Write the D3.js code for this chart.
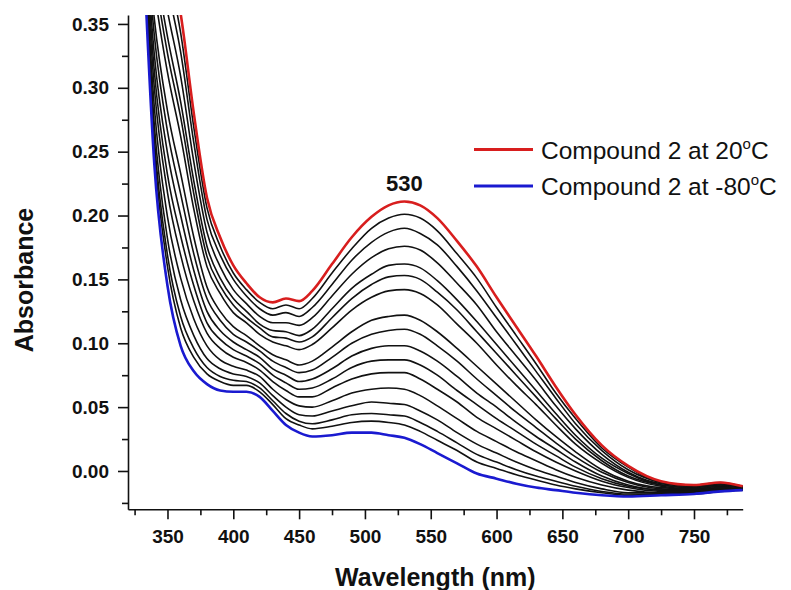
<!DOCTYPE html>
<html>
<head>
<meta charset="utf-8">
<script src="https://d3js.org/d3.v7.min.js"></script>
<style>
  html, body { margin: 0; padding: 0; background: #fff; }
  svg { display: block; }
  .tick text { font-family: "Liberation Sans", Arial, sans-serif; font-weight: bold; font-size: 19px; fill: #111; }
</style>
</head>
<body>
<svg id="chart" width="791" height="590"></svg>
<script>
// Wavelength grid (nm) shared by every spectrum
const wavelengths = [330,340,350,360,370,380,390,400,410,420,430,440,450,460,475,490,505,518,530,542,555,570,585,600,615,630,645,660,680,700,725,750,770,787];

// Spectrum recorded at 20 °C
const spectrum20C = [0.500,0.460,0.410,0.358,0.280,0.214,0.183,0.161,0.147,0.136,0.132,0.135,0.133,0.141,0.162,0.183,0.199,0.208,0.211,0.208,0.198,0.180,0.160,0.136,0.113,0.090,0.066,0.044,0.020,0.004,-0.008,-0.011,-0.009,-0.012];

// Spectrum recorded at -80 °C
const spectrumMinus80C = [0.450,0.240,0.145,0.098,0.078,0.068,0.063,0.062,0.062,0.058,0.047,0.036,0.030,0.027,0.028,0.030,0.030,0.028,0.026,0.021,0.014,0.006,-0.002,-0.006,-0.010,-0.013,-0.015,-0.017,-0.019,-0.020,-0.019,-0.018,-0.016,-0.015];

// Intermediate spectra recorded while cooling
const intermediateSpectra = [
  [0.497,0.448,0.395,0.343,0.269,0.206,0.176,0.155,0.142,0.132,0.127,0.130,0.127,0.135,0.155,0.174,0.190,0.198,0.201,0.198,0.188,0.170,0.151,0.128,0.106,0.084,0.061,0.041,0.018,0.003,-0.009,-0.011,-0.009,-0.012],
  [0.494,0.434,0.379,0.328,0.257,0.197,0.169,0.150,0.137,0.127,0.122,0.124,0.121,0.128,0.146,0.165,0.179,0.187,0.190,0.186,0.177,0.160,0.141,0.120,0.099,0.078,0.057,0.037,0.016,0.001,-0.009,-0.012,-0.010,-0.012],
  [0.491,0.419,0.360,0.309,0.242,0.187,0.160,0.142,0.131,0.121,0.116,0.116,0.114,0.120,0.137,0.154,0.167,0.174,0.176,0.173,0.163,0.147,0.130,0.109,0.090,0.071,0.051,0.033,0.013,-0.001,-0.010,-0.012,-0.010,-0.013],
  [0.487,0.402,0.340,0.289,0.227,0.176,0.151,0.135,0.125,0.115,0.110,0.109,0.106,0.111,0.127,0.143,0.154,0.161,0.162,0.159,0.149,0.134,0.117,0.099,0.081,0.063,0.045,0.028,0.010,-0.002,-0.011,-0.013,-0.011,-0.013],
  [0.484,0.391,0.327,0.277,0.217,0.168,0.145,0.130,0.120,0.112,0.105,0.104,0.101,0.105,0.120,0.135,0.146,0.152,0.153,0.150,0.140,0.126,0.109,0.092,0.075,0.058,0.041,0.025,0.008,-0.004,-0.011,-0.013,-0.011,-0.013],
  [0.481,0.378,0.312,0.262,0.205,0.160,0.139,0.124,0.116,0.107,0.101,0.098,0.095,0.099,0.112,0.126,0.136,0.141,0.142,0.139,0.130,0.115,0.100,0.083,0.067,0.052,0.036,0.021,0.006,-0.005,-0.012,-0.014,-0.012,-0.013],
  [0.476,0.354,0.282,0.233,0.183,0.144,0.125,0.113,0.106,0.098,0.091,0.087,0.083,0.086,0.097,0.109,0.118,0.121,0.122,0.118,0.109,0.096,0.082,0.068,0.054,0.040,0.027,0.015,0.001,-0.008,-0.013,-0.014,-0.012,-0.013],
  [0.473,0.341,0.266,0.217,0.170,0.135,0.118,0.107,0.101,0.094,0.086,0.081,0.077,0.079,0.089,0.100,0.107,0.110,0.111,0.107,0.098,0.086,0.072,0.059,0.046,0.034,0.022,0.011,-0.001,-0.009,-0.014,-0.015,-0.013,-0.014],
  [0.470,0.326,0.249,0.200,0.157,0.125,0.110,0.101,0.095,0.089,0.080,0.075,0.070,0.072,0.080,0.090,0.096,0.098,0.098,0.094,0.086,0.074,0.061,0.050,0.038,0.027,0.017,0.007,-0.004,-0.011,-0.015,-0.015,-0.013,-0.014],
  [0.467,0.313,0.232,0.184,0.145,0.116,0.103,0.095,0.090,0.084,0.075,0.069,0.064,0.065,0.072,0.081,0.086,0.087,0.087,0.083,0.075,0.063,0.052,0.041,0.031,0.021,0.012,0.003,-0.006,-0.012,-0.015,-0.016,-0.014,-0.014],
  [0.464,0.300,0.218,0.169,0.133,0.108,0.096,0.089,0.085,0.079,0.070,0.063,0.058,0.058,0.065,0.072,0.076,0.077,0.077,0.072,0.064,0.054,0.042,0.033,0.024,0.015,0.007,0.000,-0.008,-0.013,-0.016,-0.016,-0.014,-0.014],
  [0.460,0.285,0.199,0.151,0.119,0.098,0.087,0.082,0.079,0.074,0.064,0.056,0.051,0.050,0.055,0.061,0.064,0.065,0.064,0.059,0.051,0.041,0.031,0.023,0.015,0.008,0.001,-0.005,-0.011,-0.015,-0.017,-0.017,-0.015,-0.014],
  [0.457,0.271,0.182,0.134,0.106,0.088,0.080,0.076,0.074,0.069,0.059,0.050,0.044,0.043,0.047,0.051,0.054,0.053,0.052,0.047,0.040,0.030,0.021,0.014,0.007,0.001,-0.004,-0.009,-0.014,-0.017,-0.017,-0.017,-0.015,-0.015],
  [0.455,0.260,0.169,0.121,0.096,0.081,0.074,0.071,0.070,0.065,0.055,0.045,0.039,0.037,0.040,0.044,0.045,0.044,0.043,0.038,0.031,0.022,0.013,0.007,0.001,-0.004,-0.008,-0.012,-0.016,-0.018,-0.018,-0.017,-0.015,-0.015],
  [0.453,0.252,0.160,0.112,0.089,0.076,0.070,0.067,0.067,0.062,0.052,0.041,0.036,0.033,0.035,0.038,0.039,0.038,0.036,0.031,0.024,0.016,0.007,0.002,-0.003,-0.007,-0.011,-0.014,-0.017,-0.019,-0.018,-0.018,-0.016,-0.015]
];

// Axis ticks
const xMajorTicks = [350,400,450,500,550,600,650,700,750];
const xMinorTicks = [325,375,425,475,525,575,625,675,725,775];
const yMajorTicks = [0.00,0.05,0.10,0.15,0.20,0.25,0.30,0.35];
const yMinorTicks = [-0.025,0.025,0.075,0.125,0.175,0.225,0.275,0.325];

const legendItems = [
  {label: "Compound 2 at 20", color: "#d81e1e"},
  {label: "Compound 2 at -80", color: "#1a1ad0"}
];
const peakLabel = {wavelength: 530, text: "530"};

const svg = d3.select("#chart");
const font = '"Liberation Sans", Arial, sans-serif';

const plot = {left: 128, right: 742.7, top: 15, bottom: 509.3};
const x = d3.scaleLinear().domain([320, 787]).range([plot.left, plot.right]);
const y = d3.scaleLinear().domain([-0.03, 0.357]).range([plot.bottom, plot.top]);

svg.append("defs").append("clipPath").attr("id", "plotClip")
  .append("rect")
  .attr("x", plot.left + 1).attr("y", plot.top)
  .attr("width", plot.right - plot.left).attr("height", plot.bottom - plot.top - 1);

const line = d3.line()
  .x((d, i) => x(wavelengths[i]))
  .y(d => y(d))
  .curve(d3.curveMonotoneX);

const curves = svg.append("g").attr("clip-path", "url(#plotClip)");

curves.selectAll("path.mid")
  .data(intermediateSpectra)
  .join("path")
  .attr("class", "mid")
  .attr("d", line)
  .attr("fill", "none")
  .attr("stroke", "#111")
  .attr("stroke-width", 1.6);

curves.append("path")
  .attr("d", line(spectrumMinus80C))
  .attr("fill", "none")
  .attr("stroke", legendItems[1].color)
  .attr("stroke-width", 2.6);

curves.append("path")
  .attr("d", line(spectrum20C))
  .attr("fill", "none")
  .attr("stroke", legendItems[0].color)
  .attr("stroke-width", 2.6);

// Axes
svg.append("g").attr("transform", `translate(0,${plot.bottom})`)
  .call(d3.axisBottom(x).tickValues(xMajorTicks).tickFormat(d3.format("d")).tickSize(10).tickSizeOuter(0).tickPadding(10));
svg.append("g").attr("transform", `translate(0,${plot.bottom})`)
  .call(d3.axisBottom(x).tickValues(xMinorTicks).tickFormat("").tickSize(6).tickSizeOuter(0))
  .select(".domain").remove();

svg.append("g").attr("transform", `translate(${plot.left},0)`)
  .call(d3.axisLeft(y).tickValues(yMajorTicks).tickFormat(d3.format(".2f")).tickSize(10).tickSizeOuter(0).tickPadding(9));
svg.append("g").attr("transform", `translate(${plot.left},0)`)
  .call(d3.axisLeft(y).tickValues(yMinorTicks).tickFormat("").tickSize(6).tickSizeOuter(0))
  .select(".domain").remove();

svg.selectAll(".domain, .tick line").attr("stroke", "#111").attr("stroke-width", 1.6);

// Axis titles
svg.append("text")
  .attr("x", (plot.left + plot.right) / 2)
  .attr("y", 586)
  .attr("text-anchor", "middle")
  .attr("font-family", font).attr("font-weight", "bold").attr("font-size", 25)
  .attr("fill", "#111")
  .text("Wavelength (nm)");

svg.append("text")
  .attr("transform", "translate(33,280) rotate(-90)")
  .attr("text-anchor", "middle")
  .attr("font-family", font).attr("font-weight", "bold").attr("font-size", 25)
  .attr("fill", "#111")
  .text("Absorbance");

// Peak annotation
svg.append("text")
  .attr("x", x(peakLabel.wavelength))
  .attr("y", 191)
  .attr("text-anchor", "middle")
  .attr("font-family", font).attr("font-weight", "bold").attr("font-size", 22)
  .attr("fill", "#111")
  .text(peakLabel.text);

// Legend
const legend = svg.append("g");
legendItems.forEach((item, i) => {
  const ly = 149.5 + i * 36.5;
  legend.append("line")
    .attr("x1", 474).attr("x2", 533)
    .attr("y1", ly).attr("y2", ly)
    .attr("stroke", item.color).attr("stroke-width", 3);
  const t = legend.append("text")
    .attr("x", 541).attr("y", ly + 9)
    .attr("font-family", font).attr("font-size", 24.5)
    .attr("fill", "#111");
  t.append("tspan").text(item.label);
  t.append("tspan").attr("font-size", 15).attr("dy", -10).text("o");
  t.append("tspan").attr("dy", 10).text("C");
});
</script>
</body>
</html>
